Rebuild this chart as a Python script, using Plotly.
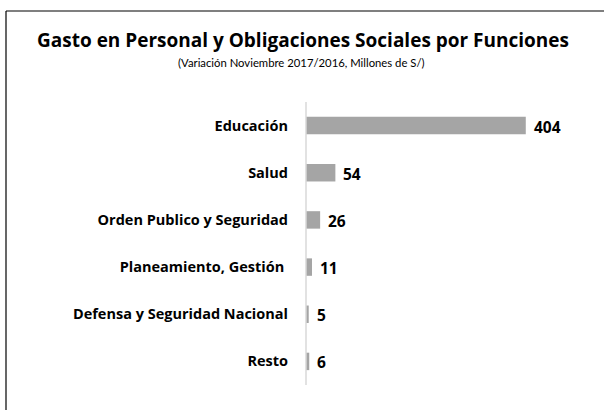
import plotly.graph_objects as go

categories = ["Educación", "Salud", "Orden Publico y Seguridad", "Planeamiento, Gestión ",
              "Defensa y Seguridad Nacional", "Resto"]
values = [404, 54, 26, 11, 5, 6]
value_labels = ["404", "54", "26", "11", "5", "6"]

title = "Gasto en Personal y Obligaciones Sociales por Funciones"
subtitle = "(Variación Noviembre 2017/2016, Millones de S/)"

W, H = 604, 410
L, R, T, B = 306, 26, 102, 25
pw, ph = W - L - R, H - T - B

def px(x):
    return (x - L) / pw

def py(y):
    return (H - B - y) / ph

FONT = "Open Sans, Lato, sans-serif"
SUBFONT = "Lato, sans-serif"

fig = go.Figure(go.Bar(
    x=values, y=categories, orientation="h",
    marker=dict(color="#a5a5a5", line=dict(width=0)),
    width=0.37,
    hoverinfo="skip",
))

annotations = [
    dict(text="<b>%s</b>" % title, xref="paper", yref="paper",
         x=px(303), y=py(40), xanchor="center", yanchor="middle",
         showarrow=False, font=dict(family=FONT, size=19, color="#000000")),
    dict(text=subtitle, xref="paper", yref="paper",
         x=px(301), y=py(63), xanchor="center", yanchor="middle",
         showarrow=False, font=dict(family=SUBFONT, size=11.3, color="#000000")),
]
for c, v, t in zip(categories, values, value_labels):
    annotations.append(dict(text="<b>%s</b>" % t, x=v, y=c, xref="x", yref="y",
                            xanchor="left", yanchor="middle", xshift=6, yshift=-1,
                            showarrow=False,
                            font=dict(family=FONT, size=15.5, color="#000000")))

fig.update_layout(
    width=W, height=H,
    margin=dict(l=L, r=R, t=T, b=B),
    paper_bgcolor="white", plot_bgcolor="white",
    showlegend=False,
    xaxis=dict(range=[0, 500], visible=False, showgrid=False, zeroline=False),
    yaxis=dict(autorange="reversed", showgrid=False, zeroline=False,
               showline=False, ticks="", ticklabelstandoff=17,
               tickfont=dict(family=FONT, size=14.5, color="#000000"),
               tickmode="array", tickvals=categories,
               ticktext=["<b>%s</b>" % c for c in categories]),
    font=dict(family=FONT),
    shapes=[
        dict(type="line", xref="paper", yref="paper", x0=0, x1=0,
             y0=0, y1=1, line=dict(color="#d9d9d9", width=1.5)),
        dict(type="line", xref="paper", yref="paper", x0=px(6), x1=px(610),
             y0=py(11), y1=py(11), line=dict(color="#000000", width=1.2)),
        dict(type="line", xref="paper", yref="paper", x0=px(6), x1=px(6),
             y0=py(11), y1=py(420), line=dict(color="#000000", width=1.2)),
    ],
    annotations=annotations,
)

fig.write_html("out.html", config={"displayModeBar": False},
               post_script="document.body.style.margin='0';document.body.style.padding='0';document.body.style.overflow='hidden';")
